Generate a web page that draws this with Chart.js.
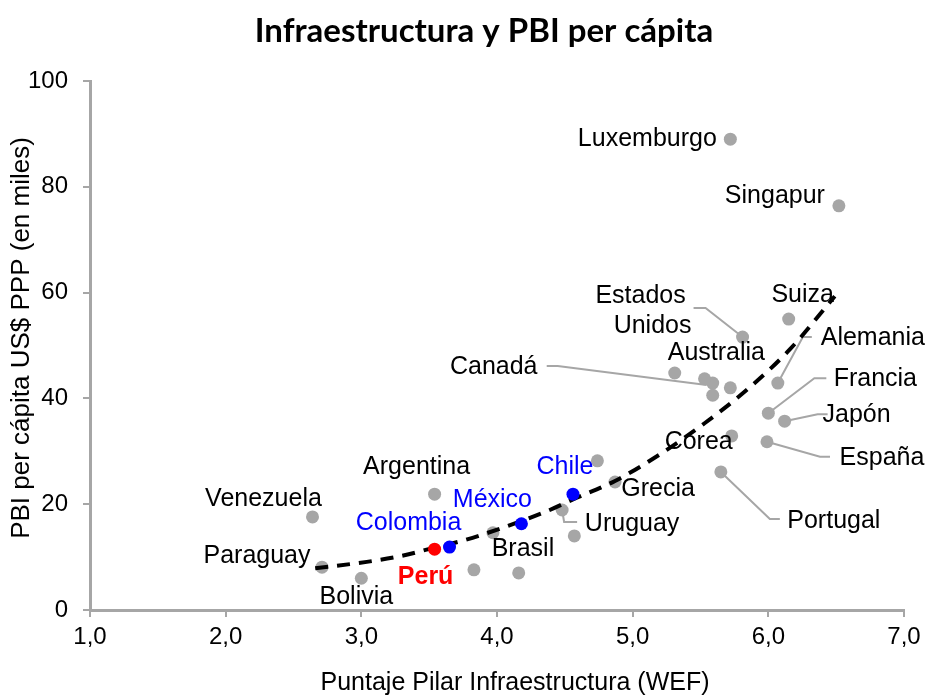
<!DOCTYPE html>
<html><head><meta charset="utf-8">
<script src="https://cdn.jsdelivr.net/npm/chart.js@4.4.0/dist/chart.umd.min.js"></script>
<style>html,body{margin:0;padding:0;background:#fff;}#wrap{width:927px;height:695px;}</style>
</head><body><div id="wrap"><canvas id="c" width="927" height="695"></canvas></div>
<script>
const titulo = 'Infraestructura y PBI per cápita';
const tituloX = 'Puntaje Pilar Infraestructura (WEF)';
const tituloY = 'PBI per cápita US$ PPP (en miles)';

const paises = ['Luxemburgo','Singapur','Suiza','Estados Unidos','Alemania','Australia','Canadá','Francia','Japón','Corea','España','Portugal','Grecia','Uruguay','Brasil','Argentina','Venezuela','Paraguay','Bolivia','Chile','México','Colombia','Perú'];
const infra  = [5.72,6.52,6.15,5.81,6.07,5.72,5.59,6.00,6.12,5.73,5.99,5.65,4.87,4.48,3.97,3.54,2.64,2.71,3.00,4.56,4.18,3.65,3.54];
const pbi    = [89.0,76.4,55.0,51.6,42.9,42.0,42.9,37.2,35.7,32.9,31.8,26.1,24.2,18.9,14.6,21.9,17.6,8.1,6.0,21.9,16.3,11.9,11.5];
const azules = ['Chile','México','Colombia'];
const rojos  = ['Perú'];

const otrosInfra = [5.31,5.53,5.59,4.74,4.57,3.83,4.16];
const otrosPbi   = [44.8,43.7,40.6,28.2,14.0,7.6,7.0];

const tendX = [2.66,3.04,3.31,3.51,3.73,3.91,4.37,4.56,4.87,5.20,5.53,5.85,6.16,6.49];
const tendY = [7.9,9.1,10.3,11.6,13.0,14.4,18.7,20.9,24.4,29.4,35.3,41.8,49.3,59.3];

const xTicks = [1,2,3,4,5,6,7];
const yTicks = [0,20,40,60,80,100];

// label placement: pixel offsets from each point (layout only)
const etiquetas = {
  'Luxemburgo': {t:['Luxemburgo'], dx:-83, dy:0},
  'Singapur': {t:['Singapur'], dx:-64, dy:-10},
  'Suiza': {t:['Suiza'], dx:14, dy:-24},
  'Estados Unidos': {t:['Estados','Unidos'], dx:-102, dy:-41, lh:30, leader:[[-49,-29],[-37,-29],[0,0]]},
  'Alemania': {t:['Alemania'], dx:95, dy:-45, leader:[[34,-46],[25,-46],[0,0]]},
  'Australia': {t:['Australia'], dx:-14, dy:-35},
  'Canadá': {t:['Canadá'], dx:-219, dy:-16, leader:[[-166,-17],[-155,-17],[-6,2]]},
  'Francia': {t:['Francia'], dx:107, dy:-34, leader:[[58,-35],[46,-35],[0,0]]},
  'Japón': {t:['Japón'], dx:72, dy:-6, leader:[[43,-7],[33,-7],[0,0]]},
  'Corea': {t:['Corea'], dx:-33, dy:6},
  'España': {t:['España'], dx:115, dy:16, leader:[[63,15],[53,15],[0,0]]},
  'Portugal': {t:['Portugal'], dx:113, dy:49, leader:[[0,0],[49,47],[59,47]]},
  'Grecia': {t:['Grecia'], dx:43, dy:7},
  'Uruguay': {t:['Uruguay'], dx:70, dy:14, leader:[[0,0],[2,12],[15,12]]},
  'Brasil': {t:['Brasil'], dx:30, dy:16},
  'Argentina': {t:['Argentina'], dx:-18, dy:-27},
  'Venezuela': {t:['Venezuela'], dx:-49, dy:-18},
  'Paraguay': {t:['Paraguay'], dx:-65, dy:-11},
  'Bolivia': {t:['Bolivia'], dx:-5, dy:19},
  'Chile': {t:['Chile'], dx:-8, dy:-27, color:'#0000ff'},
  'México': {t:['México'], dx:-29, dy:-24, color:'#0000ff'},
  'Colombia': {t:['Colombia'], dx:-41, dy:-24, color:'#0000ff'},
  'Perú': {t:['Perú'], dx:-9, dy:28, color:'#ff0000', bold:true}
};

const GRIS = '#a6a6a6';
const grisPts = [], azulPts = [], rojoPts = [];
paises.forEach((p,i)=>{
  const pt = {x:infra[i], y:pbi[i], n:p};
  if (azules.includes(p)) azulPts.push(pt);
  else if (rojos.includes(p)) rojoPts.push(pt);
  else grisPts.push(pt);
});
otrosInfra.forEach((x,i)=>grisPts.push({x:x, y:otrosPbi[i], n:''}));
const tendPts = tendX.map((x,i)=>({x:x, y:tendY[i]}));

const FONT = "'Liberation Sans', Arial, sans-serif";

const etiquetasPlugin = {
  id:'etiquetas',
  beforeDatasetsDraw(chart){
    const ctx = chart.ctx, xs = chart.scales.x, ys = chart.scales.y;
    ctx.save();
    ctx.strokeStyle = GRIS; ctx.lineWidth = 2;
    paises.forEach((p,i)=>{
      const e = etiquetas[p]; if (!e || !e.leader) return;
      const px = xs.getPixelForValue(infra[i]), py = ys.getPixelForValue(pbi[i]);
      ctx.beginPath();
      e.leader.forEach((o,k)=>{ if(k===0) ctx.moveTo(px+o[0],py+o[1]); else ctx.lineTo(px+o[0],py+o[1]); });
      ctx.stroke();
    });
    ctx.restore();
  },
  afterDatasetsDraw(chart){
    const ctx = chart.ctx, xs = chart.scales.x, ys = chart.scales.y;
    ctx.save();
    ctx.textAlign = 'center'; ctx.textBaseline = 'middle';
    paises.forEach((p,i)=>{
      const e = etiquetas[p]; if (!e) return;
      const px = xs.getPixelForValue(infra[i]), py = ys.getPixelForValue(pbi[i]);
      ctx.font = (e.bold?'bold ':'') + '25px ' + FONT;
      ctx.fillStyle = e.color || '#000';
      const lh = e.lh || 26;
      e.t.forEach((line,k)=>{
        const off = k*lh;
        ctx.fillText(line, px+e.dx + (k===1?12:0), py+e.dy+off);
      });
    });
    ctx.restore();
  },
  afterDraw(chart){
    const ctx = chart.ctx;
    ctx.save();
    ctx.fillStyle = '#000';
    ctx.textAlign = 'center'; ctx.textBaseline = 'middle';
    ctx.font = "bold 33px Lato, 'Open Sans', sans-serif";
    ctx.fillText(titulo, 484, 31);
    ctx.font = '25px ' + FONT;
    ctx.fillText(tituloX, 515, 683);
    ctx.translate(22, 338);
    ctx.rotate(-Math.PI/2);
    ctx.font = '26px ' + FONT;
    ctx.fillText(tituloY, 0, 0);
    ctx.restore();
  }
};

new Chart(document.getElementById('c'), {
  type:'scatter',
  data:{ datasets:[
    {label:'Otros', data:grisPts, backgroundColor:GRIS, borderWidth:0, pointRadius:6.5, order:3},
    {label:'Tendencia', data:tendPts, showLine:true, borderColor:'#000', borderWidth:4, borderDash:[13,9], pointRadius:0, cubicInterpolationMode:'monotone', fill:false, order:2},
    {label:'Azul', data:azulPts, backgroundColor:'#0000ff', borderWidth:0, pointRadius:6.5, order:1},
    {label:'Rojo', data:rojoPts, backgroundColor:'#ff0000', borderWidth:0, pointRadius:6.5, order:1}
  ]},
  options:{
    responsive:false, animation:false, devicePixelRatio:1,
    layout:{padding:{top:81, right:23, bottom:0, left:0}},
    plugins:{legend:{display:false}, tooltip:{enabled:false}, title:{display:false}},
    scales:{
      x:{type:'linear', min:1, max:7,
        afterBuildTicks:s=>{ s.ticks = xTicks.map(v=>({value:v})); },
        afterFit:s=>{ s.height = 85; },
        ticks:{callback:v=>Number(v).toFixed(1).replace('.',','), font:{family:FONT, size:24}, color:'#000', padding:6, maxRotation:0, autoSkip:false},
        grid:{drawOnChartArea:false, drawTicks:true, tickLength:7, color:GRIS, lineWidth:2},
        border:{color:GRIS, width:3}
      },
      y:{type:'linear', min:0, max:100,
        afterBuildTicks:s=>{ s.ticks = yTicks.map(v=>({value:v})); },
        afterFit:s=>{ s.width = 90; },
        ticks:{font:{family:FONT, size:24}, color:'#000', padding:15},
        grid:{drawOnChartArea:false, drawTicks:true, tickLength:7, color:GRIS, lineWidth:2},
        border:{color:GRIS, width:3}
      }
    }
  },
  plugins:[etiquetasPlugin]
});
</script></body></html>
